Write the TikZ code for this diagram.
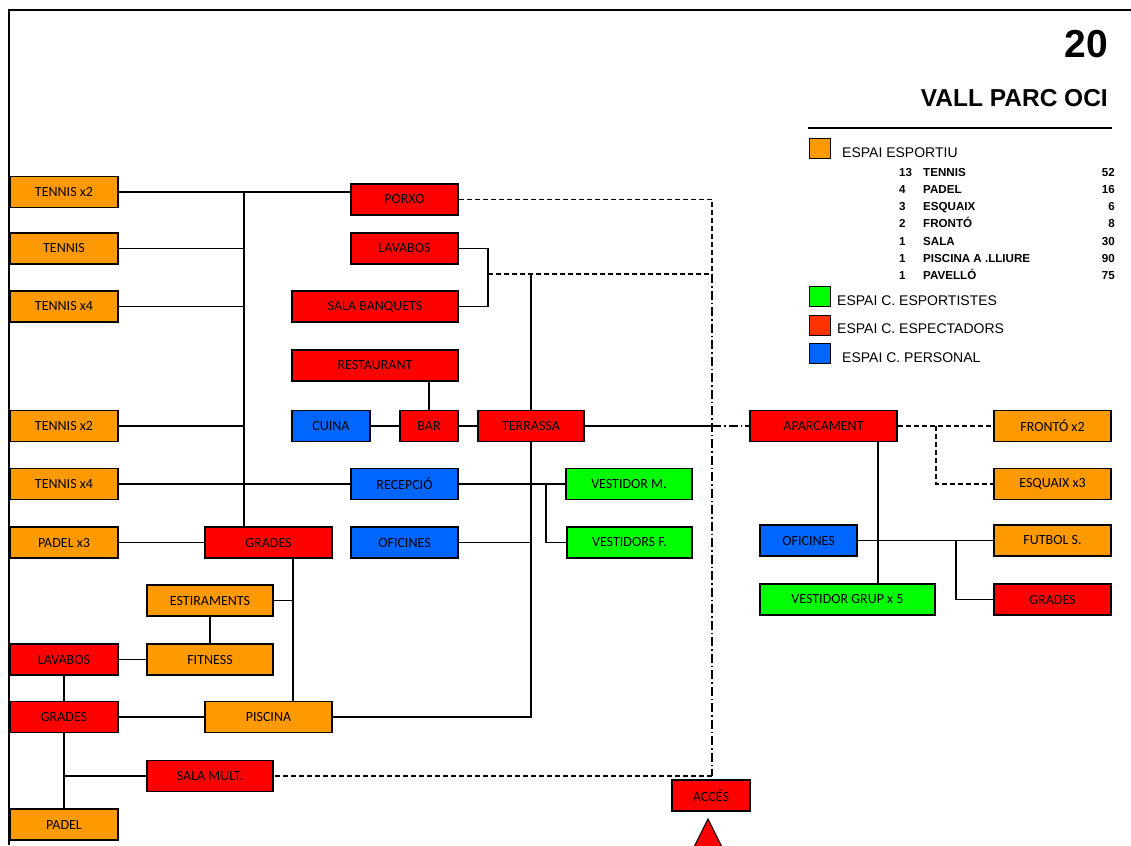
\documentclass[tikz,border=0pt]{standalone}
\usepackage{fontspec}
\setmainfont{Liberation Sans}
\newfontfamily\boxfont{Carlito}
\definecolor{sportorange}{RGB}{255,153,0}
\definecolor{spectred}{RGB}{255,0,0}
\definecolor{legendred}{RGB}{255,51,0}
\definecolor{staffblue}{RGB}{0,102,255}
\definecolor{athletegreen}{RGB}{0,255,0}
\begin{document}
\begin{tikzpicture}[x=1pt, y=-1pt]
        \tikzset{
            room/.style={
                draw=black,
                line width=1.5pt,
                minimum height=31pt,
                inner sep=0pt,
                text=black,
                font=\boxfont\fontsize{14}{14}\selectfont
            },
            sport/.style={room, fill=sportorange},
            spect/.style={room, fill=spectred},
            staff/.style={room, fill=staffblue},
            athlete/.style={room, fill=athletegreen},
            link/.style={draw=black, line width=1.2pt},
            dashlink/.style={link, dash pattern=on 5pt off 3pt},
            dotlink/.style={link, dash pattern=on 9pt off 3pt on 1.5pt off 3pt},
            swatch/.style={draw=black, line width=1pt, minimum width=21pt, minimum height=20pt, inner sep=0pt},
            legendtext/.style={anchor=base west, inner sep=0pt, font=\fontsize{14}{14}\selectfont},
            itemtext/.style={inner sep=0pt, font=\bfseries\fontsize{11.6}{12}\selectfont}
        }

        \useasboundingbox (0,0) rectangle (1131,845);
        \draw[line width=2pt] (9,845) -- (9,10) -- (1131,10);

        % legend
        \node[anchor=base east, inner sep=0pt, font=\bfseries\fontsize{39}{39}\selectfont] (sheet) at (1108,58) {20};
        \node[anchor=base east, inner sep=0pt, font=\bfseries\fontsize{24.5}{25}\selectfont] (title) at (1108,107) {VALL PARC OCI};
        \draw[line width=1.4pt] (808,128) -- (1112,128);

        \node[swatch, fill=sportorange, anchor=north west] (swsport) at (809,138) {};
        \node[legendtext] (lgsport) at (842,158) {ESPAI ESPORTIU};
        \foreach \cnt/\kind/\val [count=\i from 0] in {13/TENNIS/52, 4/PADEL/16, 3/ESQUAIX/6, 2/FRONTÓ/8, 1/SALA/30, 1/PISCINA A .LLIURE/90, 1/PAVELLÓ/75} {
            \node[itemtext, anchor=base west] (cnt\i) at (899,{176+17.3*\i}) {\cnt};
            \node[itemtext, anchor=base west] (kind\i) at (923,{176+17.3*\i}) {\kind};
            \node[itemtext, anchor=base east] (val\i) at (1115,{176+17.3*\i}) {\val};
        }
        \node[swatch, fill=athletegreen, anchor=north west] (swathl) at (809,286) {};
        \node[legendtext] (lgathl) at (837,305) {ESPAI C. ESPORTISTES};
        \node[swatch, fill=legendred, anchor=north west] (swspect) at (809,315) {};
        \node[legendtext] (lgspect) at (837,333) {ESPAI C. ESPECTADORS};
        \node[swatch, fill=staffblue, anchor=north west] (swstaff) at (809,343) {};
        \node[legendtext] (lgstaff) at (842,362) {ESPAI C. PERSONAL};

        % left column
        \node[sport, minimum width=108] (tenA) at (64,192) {TENNIS x2};
        \node[sport, minimum width=108] (tenB) at (64,248.5) {TENNIS};
        \node[sport, minimum width=108] (tenC) at (64,306.5) {TENNIS x4};
        \node[sport, minimum width=108] (tenD) at (64,426) {TENNIS x2};
        \node[sport, minimum width=108] (tenE) at (64,484) {TENNIS x4};
        \node[sport, minimum width=108] (padA) at (64,542.5) {PADEL x3};
        \node[spect, minimum width=108] (lavL) at (64,659.5) {LAVABOS};
        \node[spect, minimum width=108] (graL) at (64,717) {GRADES};
        \node[sport, minimum width=108] (padB) at (64,824.5) {PADEL};

        % middle
        \node[spect, minimum width=107] (porxo) at (404.5,199.5) {PORXO};
        \node[spect, minimum width=107] (lavM) at (404.5,248.5) {LAVABOS};
        \node[spect, minimum width=166] (banq) at (375,306.5) {SALA BANQUETS};
        \node[spect, minimum width=166] (rest) at (375,365.5) {RESTAURANT};
        \node[staff, minimum width=78] (cuina) at (331,426) {CUINA};
        \node[spect, minimum width=58] (bar) at (429,426) {BAR};
        \node[spect, minimum width=106] (terr) at (531,426) {TERRASSA};
        \node[staff, minimum width=107] (recep) at (404.5,484) {RECEPCIÓ};
        \node[staff, minimum width=107] (ofiM) at (404.5,542.5) {OFICINES};
        \node[athlete, minimum width=126] (vestM) at (629,484) {VESTIDOR M.};
        \node[athlete, minimum width=125] (vestF) at (629.5,542.5) {VESTIDORS F.};
        \node[spect, minimum width=127] (graM) at (268.5,542.5) {GRADES};
        \node[sport, minimum width=126] (estir) at (210,600.5) {ESTIRAMENTS};
        \node[sport, minimum width=126] (fitn) at (210,659.5) {FITNESS};
        \node[sport, minimum width=127] (pisc) at (268.5,717) {PISCINA};
        \node[spect, minimum width=126] (mult) at (210,776) {SALA MULT.};
        \node[spect, minimum width=78] (acces) at (711,795.5) {ACCÉS};

        % right
        \node[spect, minimum width=147] (aparc) at (823.5,426) {APARCAMENT};
        \node[sport, minimum width=117] (front) at (1052.5,426) {FRONTÓ x2};
        \node[sport, minimum width=117] (esq) at (1052.5,484) {ESQUAIX x3};
        \node[staff, minimum width=97] (ofiR) at (808.5,540.5) {OFICINES};
        \node[sport, minimum width=117] (futb) at (1052.5,540.5) {FUTBOL S.};
        \node[athlete, minimum width=175] (vgrup) at (847.5,599.5) {VESTIDOR GRUP x 5};
        \node[spect, minimum width=117] (graR) at (1052.5,599.5) {GRADES};

        \coordinate (trunk) at (244,0);
        \coordinate (pool) at (293,0);
        \coordinate (join) at (488,274);
        \coordinate (gate) at (712,274);
        \coordinate (split) at (546,0);
        \coordinate (fork) at (936,0);
        \coordinate (drop) at (878,0);
        \coordinate (branch) at (956,0);

        \draw[link] (tenA.east) -- (tenA.east -| porxo.west);
        \draw[link] (trunk |- tenA.east) -- (trunk |- graM.north);
        \draw[link] (tenB.east) -- (tenB.east -| trunk);
        \draw[link] (tenC.east) -- (tenC.east -| trunk);
        \draw[link] (tenD.east) -- (tenD.east -| trunk);
        \draw[link] (tenE.east) -- (recep.west);
        \draw[link] (padA.east) -- (graM.west);
        \draw[link] (pool |- graM.south) -- (pool |- pisc.north);
        \draw[link] (estir.east) -- (estir.east -| pool);
        \draw[link] (estir.south) -- (fitn.north);
        \draw[link] (lavL.east) -- (fitn.west);
        \draw[link] (lavL.south) -- (graL.north);
        \draw[link] (graL.east) -- (pisc.west);
        \draw[link] (graL.south) -- (padB.north);
        \draw[link] (graL.south |- mult.west) -- (mult.west);

        \draw[link] (lavM.east) -- (lavM.east -| join) |- (banq.east);
        \draw[link] (bar.north |- rest.south) -- (bar.north);
        \draw[link] (cuina.east) -- (bar.west);
        \draw[link] (bar.east) -- (terr.west);
        \draw[link] (terr.north) -- (terr.north |- gate);
        \draw[link] (pisc.east) -| (terr.south);
        \draw[link] (ofiM.east) -- (ofiM.east -| terr.south);
        \draw[link] (recep.east) -- (vestM.west);
        \draw[link] (split |- recep.east) |- (vestF.west);
        \draw[link] (terr.east) -- (terr.east -| gate);
        \draw[dotlink] (terr.east -| gate) -- (aparc.west);

        \draw[dashlink] (porxo.east) -- (porxo.east -| gate) -- (gate);
        \draw[dashlink] (join) -- (gate);
        \draw[dotlink] (gate) -- (gate |- mult.east);
        \draw[dashlink] (gate |- mult.east) -- (mult.east);

        \draw[dashlink] (aparc.east) -- (front.west);
        \draw[dashlink] (fork |- aparc.east) |- (esq.west);
        \draw[link] (drop |- aparc.south) -- (drop |- vgrup.north);
        \draw[link] (ofiR.east) -- (futb.west);
        \draw[link] (branch |- ofiR.east) |- (graR.west);

        \filldraw[fill=spectred, draw=black, line width=1pt] (708,819) -- (722,847) -- (694,847) -- cycle;
    \end{tikzpicture}
\end{document}
